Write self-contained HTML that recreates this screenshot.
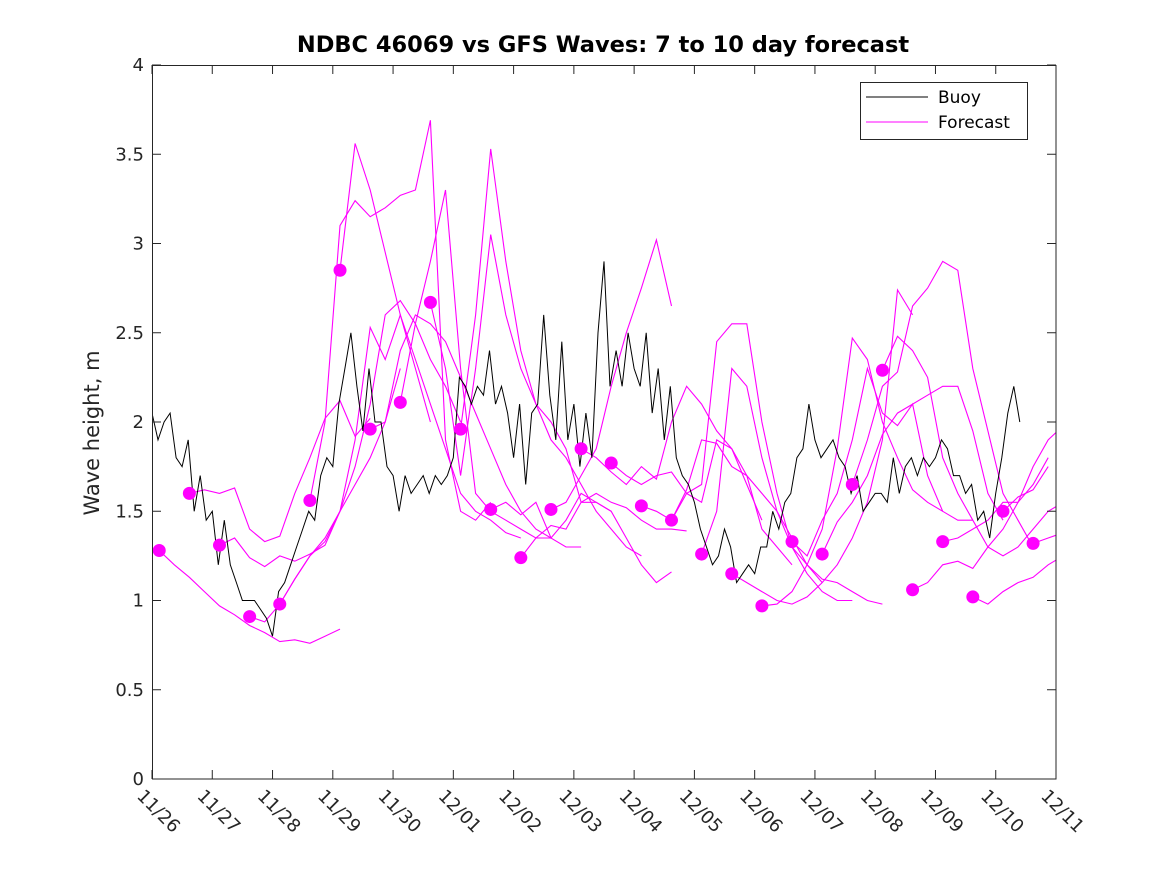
<!DOCTYPE html>
<html><head><meta charset="utf-8"><style>
body{margin:0;background:#fff;}
svg{display:block;font-family:"DejaVu Sans","Liberation Sans",sans-serif;}
</style></head><body>
<svg id="chart" width="1167" height="875" viewBox="0 0 1167 875">
<rect width="1167" height="875" fill="#fff"/>
<text x="603" y="52" text-anchor="middle" font-size="22.5" font-weight="bold" fill="#000">NDBC 46069 vs GFS Waves: 7 to 10 day forecast</text>
<text transform="translate(99,433) rotate(-90)" text-anchor="middle" font-size="21" fill="#262626">Wave height, m</text>
<defs><clipPath id="pc"><rect x="152" y="65" width="904" height="714"/></clipPath></defs>
<g id="marks" clip-path="url(#pc)"></g>
<g id="dots" clip-path="url(#pc)"></g>
<rect x="152.5" y="65.5" width="903.5" height="713.5" fill="none" stroke="#262626" stroke-width="1"/>
<g id="axes"></g>
<g>
<rect x="860.5" y="82.5" width="167" height="57" fill="#fff" stroke="#262626"/>
<line x1="866" y1="97" x2="928" y2="97" stroke="#000" stroke-width="1"/>
<text x="938" y="103" font-size="17" fill="#000">Buoy</text>
<line x1="866" y1="122" x2="928" y2="122" stroke="#ff00ff" stroke-width="1"/>
<text x="938" y="128" font-size="17" fill="#000">Forecast</text>
</g>
</svg>
<script>
const xTickLabels=["11/26","11/27","11/28","11/29","11/30","12/01","12/02","12/03","12/04","12/05","12/06","12/07","12/08","12/09","12/10","12/11"];
const yTicks=[0,0.5,1,1.5,2,2.5,3,3.5,4];
const yTickLabels=["0","0.5","1","1.5","2","2.5","3","3.5","4"];
const buoyStep=0.1;
const buoyValues=[2.05,1.9,2.0,2.05,1.8,1.75,1.9,1.5,1.7,1.45,
1.5,1.2,1.45,1.2,1.1,1.0,1.0,1.0,0.95,0.9,
0.8,1.05,1.1,1.2,1.3,1.4,1.5,1.45,1.7,1.8,
1.75,2.1,2.3,2.5,2.2,1.95,2.3,2.0,2.0,1.75,
1.7,1.5,1.7,1.6,1.65,1.7,1.6,1.7,1.65,1.7,
1.8,2.25,2.2,2.1,2.2,2.15,2.4,2.1,2.2,2.05,
1.8,2.1,1.65,2.05,2.1,2.6,2.15,1.9,2.45,1.9,
2.1,1.75,2.05,1.8,2.5,2.9,2.2,2.4,2.2,2.5,
2.3,2.2,2.5,2.05,2.3,1.9,2.2,1.8,1.7,1.65,
1.55,1.4,1.3,1.2,1.25,1.4,1.3,1.1,1.15,1.2,
1.15,1.3,1.3,1.5,1.4,1.55,1.6,1.8,1.85,2.1,
1.9,1.8,1.85,1.9,1.8,1.75,1.6,1.7,1.5,1.55,
1.6,1.6,1.55,1.8,1.6,1.75,1.8,1.7,1.8,1.75,
1.8,1.9,1.85,1.7,1.7,1.6,1.65,1.45,1.5,1.35,
1.6,1.8,2.05,2.2,2.0];
const forecastStep=0.25;
const forecastStarts=[0.12,0.62,1.12,1.62,2.12,2.62,3.12,3.62,4.12,4.62,5.12,5.62,6.12,6.62,7.12,7.62,8.12,8.62,9.12,9.62,10.12,10.62,11.12,11.62,12.12,12.62,13.12,13.62,14.12,14.62];
const dotValues=[1.28,1.6,1.31,0.91,0.98,1.56,2.85,1.96,2.11,2.67,1.96,1.51,1.24,1.51,1.85,1.77,1.53,1.45,1.26,1.15,0.97,1.33,1.26,1.65,2.29,1.06,1.33,1.02,1.5,1.32];
const f0=[1.28,1.2,1.13,1.05,0.97,0.92,0.86,0.82,0.77,0.78,0.76,0.8,0.84];
const f1=[1.6,1.62,1.6,1.63,1.4,1.33,1.36,1.6,1.8,2.02,2.12,1.92,2.02];
const f2=[1.31,1.35,1.24,1.19,1.25,1.22,1.26,1.31,1.5,1.65,1.8,2.0,2.3];
const f3=[0.91,0.88,0.98,1.12,1.25,1.33,1.5,1.9,2.53,2.35,2.6,2.3,2.0];
const f4=[0.98,1.12,1.25,1.35,1.5,1.75,2.1,2.6,2.68,2.55,2.35,2.2,2.0];
const f5=[1.56,2.0,3.1,3.24,3.15,3.2,3.27,3.3,3.69,1.9,1.5,1.45,1.55];
const f6=[2.85,3.56,3.3,2.95,2.6,2.35,2.1,1.85,1.6,1.5,1.45,1.38,1.35];
const f7=[1.96,2.0,2.4,2.6,2.55,2.45,2.25,2.05,1.85,1.65,1.5,1.4,1.35];
const f8=[2.11,2.55,2.9,3.3,2.3,1.6,1.5,1.45,1.4,1.35,1.35,1.3,1.3];
const f9=[2.67,2.3,1.7,2.3,3.05,2.6,2.3,2.1,2.0,1.85,1.55,1.55,1.5];
const f10=[1.96,2.6,3.53,2.9,2.4,2.1,1.9,1.8,1.65,1.5,1.4,1.3,1.25];
const f11=[1.51,1.55,1.48,1.55,1.35,1.45,1.6,1.55,1.5,1.35,1.2,1.1,1.16];
const f12=[1.24,1.35,1.42,1.4,1.55,1.6,1.55,1.52,1.45,1.4,1.4,1.39];
const f13=[1.51,1.55,1.7,1.85,2.2,2.5,2.75,3.02,2.65];
const f14=[1.85,1.8,1.72,1.65,1.75,1.68,2.0,2.2,2.1,1.95,1.85,1.65,1.45];
const f15=[1.77,1.7,1.65,1.7,1.72,1.6,1.55,1.9,1.85,1.7,1.4,1.3,1.2];
const f16=[1.53,1.5,1.45,1.62,1.9,1.88,1.75,1.7,1.6,1.5,1.35,1.2,1.1];
const f17=[1.45,1.6,1.65,2.45,2.55,2.55,2.0,1.6,1.3,1.15,1.05,1.0,1.0];
const f18=[1.26,1.5,2.3,2.2,1.8,1.5,1.3,1.2,1.12,1.1,1.05,1.0,0.98];
const f19=[1.15,1.1,1.05,1.0,0.98,1.02,1.1,1.2,1.35,1.55,1.9,2.74,2.6];
const f20=[0.97,0.98,1.05,1.2,1.4,1.85,2.47,2.35,2.0,1.8,1.62,1.55,1.5];
const f21=[1.33,1.25,1.45,1.6,1.9,2.3,2.05,1.98,2.1,1.7,1.5,1.45,1.45];
const f22=[1.26,1.44,1.55,1.7,1.93,2.05,2.1,2.15,2.2,2.2,1.95,1.6,1.45];
const f23=[1.65,1.9,2.2,2.28,2.65,2.75,2.9,2.85,2.3,1.95,1.6,1.45,1.3];
const f24=[2.29,2.48,2.4,2.25,1.8,1.6,1.45,1.3,1.25,1.3,1.4,1.5,1.55];
const f25=[1.06,1.1,1.2,1.22,1.18,1.3,1.4,1.55,1.65,1.8];
const f26=[1.33,1.35,1.4,1.45,1.55,1.55,1.75,1.9,1.98];
const f27=[1.02,0.98,1.05,1.1,1.13,1.2,1.25];
const f28=[1.5,1.58,1.62,1.75];
const f29=[1.32,1.35,1.38];
const forecasts=[f0,f1,f2,f3,f4,f5,f6,f7,f8,f9,f10,f11,f12,f13,f14,f15,f16,f17,f18,f19,f20,f21,f22,f23,f24,f25,f26,f27,f28,f29];

const X0=152,X1=1056,Y0=779,Y1=65;
function xs(d){return X0+(X1-X0)*d/15;}
function ys(v){return Y0-(Y0-Y1)*v/4;}
const NS='http://www.w3.org/2000/svg';
function mk(tag,attrs,parent){const e=document.createElementNS(NS,tag);for(const k in attrs)e.setAttribute(k,attrs[k]);parent.appendChild(e);return e;}
const axes=document.getElementById('axes'),marks=document.getElementById('marks'),dots=document.getElementById('dots');

xTickLabels.forEach((lab,i)=>{
  const x=xs(i);
  const t1=mk('line',{x1:x,y1:Y0,x2:x,y2:Y0-9,stroke:'#262626'},axes);
  
  
  const t2=mk('line',{x1:x,y1:Y1,x2:x,y2:Y1+9,stroke:'#262626'},axes);
  
  
  const tx=mk('text',{transform:'translate('+(x-16)+','+(Y0+18)+') rotate(45)','font-size':'18',fill:'#262626'},axes);
  tx.textContent=lab;
  
  
});
yTicks.forEach((v,i)=>{
  const y=ys(v);
  const t1=mk('line',{x1:X0,y1:y,x2:X0+9,y2:y,stroke:'#262626'},axes);
  
  
  const t2=mk('line',{x1:X1,y1:y,x2:X1-9,y2:y,stroke:'#262626'},axes);
  
  
  const tx=mk('text',{x:X0-8,y:y+6,'text-anchor':'end','font-size':'18',fill:'#262626'},axes);
  tx.textContent=yTickLabels[i];
  
  
});

forecasts.forEach((arr,k)=>{
  const pts=arr.map((v,j)=>xs(forecastStarts[k]+j*forecastStep).toFixed(1)+','+ys(v).toFixed(1)).join(' ');
  const pl=mk('polyline',{points:pts,fill:'none',stroke:'#ff00ff','stroke-width':'1.1'},marks);
  
  
});
const bpts=buoyValues.map((v,j)=>xs(j*buoyStep).toFixed(1)+','+ys(v).toFixed(1)).join(' ');
const bl=mk('polyline',{points:bpts,fill:'none',stroke:'#000','stroke-width':'1'},marks);


dotValues.forEach((v,k)=>{
  const c=mk('ellipse',{cx:xs(forecastStarts[k]),cy:ys(v),rx:6.5,ry:6.5,fill:'#ff00ff'},dots);
  
  
});
</script>
</body></html>
